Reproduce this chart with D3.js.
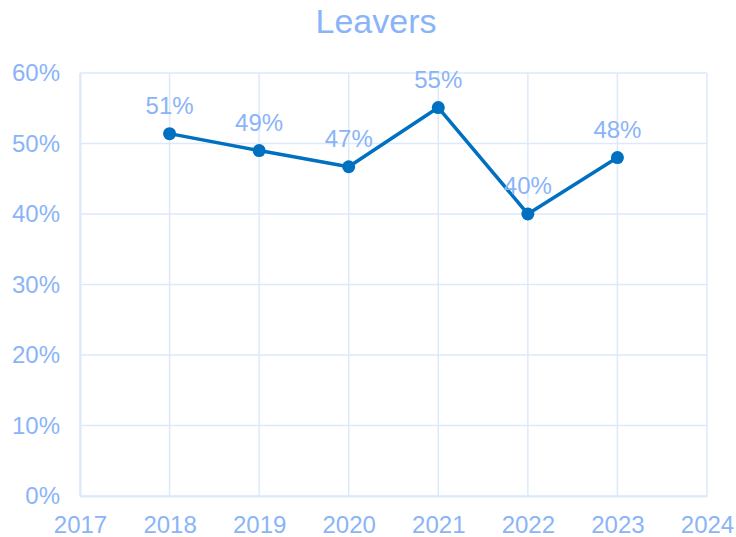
<!DOCTYPE html>
<html>
<head>
<meta charset="utf-8">
<script src="https://cdn.jsdelivr.net/npm/d3@7"></script>
<style>
    body { margin: 0; background: #fff; }
    svg { font-family: "Liberation Sans", Arial, sans-serif; }
</style>
</head>
<body>
<svg id="chart" width="736" height="537"></svg>
<script>
const years = [2018, 2019, 2020, 2021, 2022, 2023];
const leavers = [0.514, 0.49, 0.467, 0.551, 0.40, 0.48];
const xTicks = [2017, 2018, 2019, 2020, 2021, 2022, 2023, 2024];
const yTicks = [0, 0.1, 0.2, 0.3, 0.4, 0.5, 0.6];

const labelColor = "#8ab4f8";
const gridColor = "#dde9fb";
const lineColor = "#0070c0";

const svg = d3.select("#chart");
const margin = {top: 73, right: 29, bottom: 41, left: 80};
const width = 736 - margin.left - margin.right;
const height = 537 - margin.top - margin.bottom;

const xScale = d3.scaleLinear().domain([2017, 2024]).range([0, width]);
const yScale = d3.scaleLinear().domain([0, 0.6]).range([height, 0]);

svg.append("text")
        .attr("x", 376)
        .attr("y", 33)
        .attr("text-anchor", "middle")
        .attr("font-size", "34")
        .attr("fill", labelColor)
        .text("Leavers");

const focus = svg.append("g")
        .attr("transform", `translate(${margin.left},${margin.top})`);

// gridlines
focus.selectAll(".hgrid")
        .data(yTicks)
        .enter().append("line")
        .attr("class", "hgrid")
        .attr("x1", 0)
        .attr("x2", width)
        .attr("y1", d => yScale(d))
        .attr("y2", d => yScale(d))
        .attr("stroke", gridColor)
        .attr("stroke-width", 1.5);

focus.selectAll(".vgrid")
        .data(xTicks)
        .enter().append("line")
        .attr("class", "vgrid")
        .attr("x1", d => xScale(d))
        .attr("x2", d => xScale(d))
        .attr("y1", 0)
        .attr("y2", height)
        .attr("stroke", gridColor)
        .attr("stroke-width", 1.5);

const yAxis = d3.axisLeft(yScale)
        .tickValues(yTicks)
        .tickFormat(d3.format(".0%"))
        .tickSize(0)
        .tickPadding(20);

const xAxis = d3.axisBottom(xScale)
        .tickValues(xTicks)
        .tickFormat(d3.format("d"))
        .tickSize(0)
        .tickPadding(20);

const axisY = focus.append("g").call(yAxis);
const axisX = focus.append("g")
        .attr("transform", `translate(0,${height})`)
        .call(xAxis);

[axisX, axisY].forEach(a => {
    a.select(".domain").attr("stroke", gridColor).attr("stroke-width", 2);
    a.selectAll("text")
            .attr("font-size", "24")
            .attr("font-family", "\"Liberation Sans\", Arial, sans-serif")
            .attr("fill", labelColor);
});

const line = d3.line()
        .x((d, i) => xScale(years[i]))
        .y(d => yScale(d));

focus.append("path")
        .datum(leavers)
        .attr("fill", "none")
        .attr("stroke", lineColor)
        .attr("stroke-width", 3.5)
        .attr("stroke-linejoin", "round")
        .attr("d", line);

focus.selectAll(".dot")
        .data(leavers)
        .enter().append("circle")
        .attr("class", "dot")
        .attr("cx", (d, i) => xScale(years[i]))
        .attr("cy", d => yScale(d))
        .attr("r", 6.5)
        .attr("fill", lineColor);

focus.selectAll(".dlabel")
        .data(leavers)
        .enter().append("text")
        .attr("class", "dlabel")
        .attr("x", (d, i) => xScale(years[i]))
        .attr("y", d => yScale(d) - 20)
        .attr("text-anchor", "middle")
        .attr("font-size", "24")
        .attr("fill", labelColor)
        .text(d => d3.format(".0%")(d));
</script>
</body>
</html>
